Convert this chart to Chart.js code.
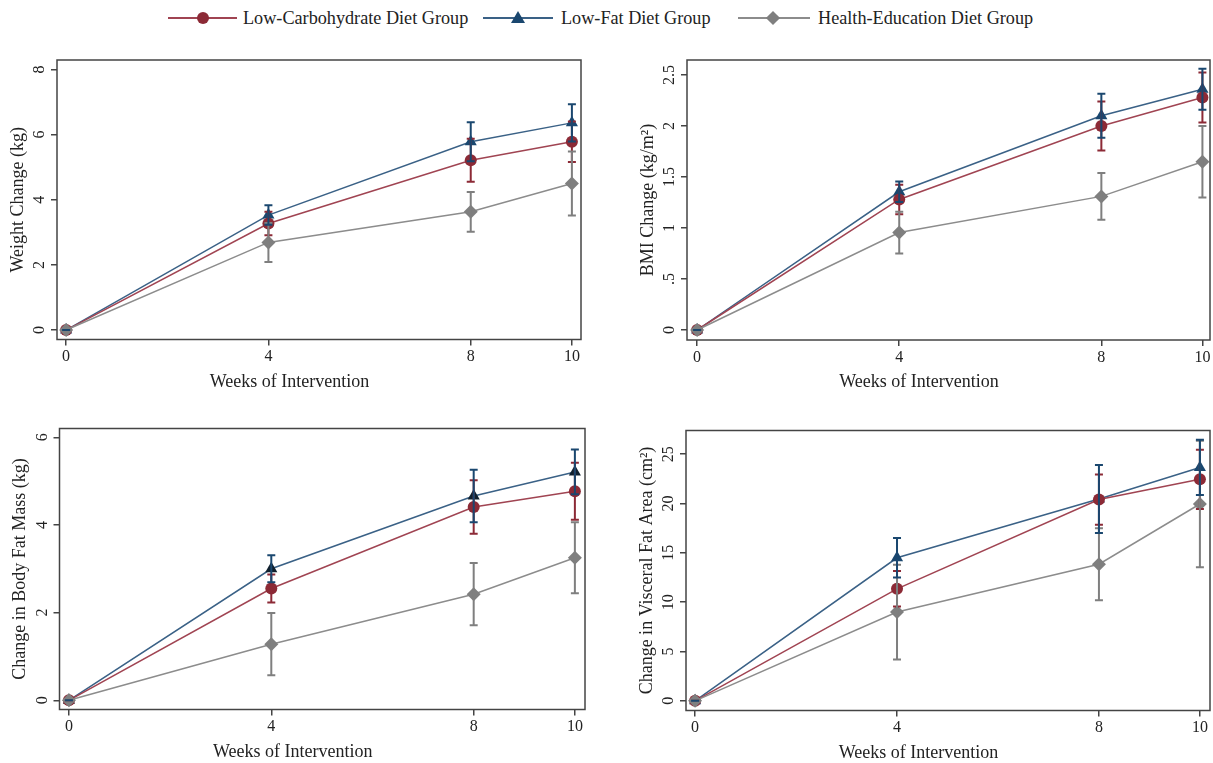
<!DOCTYPE html>
<html>
<head>
<meta charset="utf-8">
<script src="https://cdn.jsdelivr.net/npm/chart.js@4.4.0/dist/chart.umd.min.js"></script>
<style>
  body { margin: 0; background: #fff; width: 1213px; height: 763px; position: relative; overflow: hidden; font-family: "Liberation Serif", serif; }
  canvas { position: absolute; }
  .legline { position: absolute; top: 17px; height: 2px; }
  .legtext { position: absolute; top: 7px; font-size: 18.2px; line-height: 22px; color: #222; white-space: nowrap; }
  .mk { position: absolute; }
</style>
</head>
<body>

<div class="legline" style="left:168px;width:69px;background:#a04452"></div>
<div class="mk" style="left:197px;top:12px;width:12px;height:12px;border-radius:50%;background:#8c2a36"></div>
<span class="legtext" style="left:243px">Low-Carbohydrate Diet Group</span>

<div class="legline" style="left:483px;width:70px;background:#3a6186"></div>
<div class="mk" style="left:511px;top:11px;width:0;height:0;border-left:7px solid transparent;border-right:7px solid transparent;border-bottom:12px solid #1a476f"></div>
<span class="legtext" style="left:561px">Low-Fat Diet Group</span>

<div class="legline" style="left:738px;width:72px;background:#8c8c8c"></div>
<div class="mk" style="left:768px;top:13px;width:10px;height:10px;transform:rotate(45deg);background:#7f7f7f"></div>
<span class="legtext" style="left:818px">Health-Education Diet Group</span>

<canvas id="weightChart" width="606" height="360" style="left:0;top:40px"></canvas>
<canvas id="bmiChart" width="607" height="360" style="left:606px;top:40px"></canvas>
<canvas id="fatChart" width="606" height="363" style="left:0;top:400px"></canvas>
<canvas id="vfaChart" width="607" height="363" style="left:606px;top:400px"></canvas>

<script>
// weeks of intervention
var weeks = [0, 4, 8, 10];
var xTicks = [0, 4, 8, 10];
var xTickLabels = ['0', '4', '8', '10'];
var groupNames = ['Low-Carbohydrate Diet Group', 'Low-Fat Diet Group', 'Health-Education Diet Group'];

// weight change (kg): mean and half-width of error bar
var weightLowCarb = [0, 3.27, 5.21, 5.78];
var weightLowCarbErr = [0, 0.36, 0.66, 0.62];
var weightLowFat = [0, 3.53, 5.78, 6.36];
var weightLowFatErr = [0, 0.30, 0.60, 0.57];
var weightHealthEd = [0, 2.69, 3.63, 4.50];
var weightHealthEdErr = [0, 0.60, 0.61, 0.98];
var weightTicks = [0, 2, 4, 6, 8];
var weightTickLabels = ['0', '2', '4', '6', '8'];

// BMI change (kg/m2)
var bmiLowCarb = [0, 1.28, 2.00, 2.28];
var bmiLowCarbErr = [0, 0.145, 0.24, 0.245];
var bmiLowFat = [0, 1.355, 2.10, 2.36];
var bmiLowFatErr = [0, 0.10, 0.215, 0.20];
var bmiHealthEd = [0, 0.955, 1.31, 1.65];
var bmiHealthEdErr = [0, 0.205, 0.23, 0.35];
var bmiTicks = [0, 0.5, 1, 1.5, 2, 2.5];
var bmiTickLabels = ['0', '.5', '1', '1.5', '2', '2.5'];

// body fat mass change (kg)
var fatLowCarb = [0, 2.55, 4.41, 4.77];
var fatLowCarbErr = [0, 0.32, 0.61, 0.65];
var fatLowFat = [0, 3.00, 4.66, 5.21];
var fatLowFatErr = [0, 0.31, 0.60, 0.51];
var fatHealthEd = [0, 1.28, 2.42, 3.25];
var fatHealthEdErr = [0, 0.71, 0.71, 0.81];
var fatTicks = [0, 2, 4, 6];
var fatTickLabels = ['0', '2', '4', '6'];

// visceral fat area change (cm2)
var vfaLowCarb = [0, 11.35, 20.4, 22.45];
var vfaLowCarbErr = [0, 1.8, 2.55, 3.0];
var vfaLowFat = [0, 14.5, 20.45, 23.65];
var vfaLowFatErr = [0, 2.0, 3.45, 2.8];
var vfaHealthEd = [0, 9.0, 13.85, 19.95];
var vfaHealthEdErr = [0, 4.8, 3.65, 6.4];
var vfaTicks = [0, 5, 10, 15, 20, 25];
var vfaTickLabels = ['0', '5', '10', '15', '20', '25'];

var FONT = '"Liberation Serif", "Times New Roman", serif';
var lineColors = ['#a04452', '#3a6186', '#8c8c8c'];
var markColors = ['#8c2a36', '#1a476f', '#7f7f7f'];
var markStyles = ['circle', 'triangle', 'rectRot'];
var markSizes = [6, 7, 7];
var drawOrder = [2, 3, 1];

// error bars, frame, tick labels (y ones rotated) and x title
var panelExtras = {
  id: 'panelExtras',
  afterDatasetsDraw: function (chart, args, opts) {
    var ctx = chart.ctx, xs = chart.scales.x, ys = chart.scales.y;
    [0, 2, 1].forEach(function (i) {
      var ds = chart.data.datasets[i];
      var err = opts.errors[i];
      ctx.save();
      ctx.strokeStyle = markColors[i];
      ctx.lineWidth = 2;
      ds.data.forEach(function (p, j) {
        var x = xs.getPixelForValue(p.x);
        var top = ys.getPixelForValue(p.y + err[j]);
        var bot = ys.getPixelForValue(p.y - err[j]);
        ctx.beginPath();
        ctx.moveTo(x, top); ctx.lineTo(x, bot);
        ctx.moveTo(x - 4, top); ctx.lineTo(x + 4, top);
        ctx.moveTo(x - 4, bot); ctx.lineTo(x + 4, bot);
        ctx.stroke();
      });
      ctx.restore();
    });
  },
  afterDraw: function (chart, args, opts) {
    var ctx = chart.ctx, a = chart.chartArea, xs = chart.scales.x, ys = chart.scales.y;
    ctx.save();
    ctx.strokeStyle = '#444';
    ctx.lineWidth = 1.5;
    ctx.strokeRect(a.left, a.top, a.right - a.left, a.bottom - a.top);
    ctx.fillStyle = '#222';
    ctx.textAlign = 'center';
    ctx.textBaseline = 'middle';
    ctx.font = '16px ' + FONT;
    opts.yTicks.forEach(function (v, k) {
      ctx.save();
      ctx.translate(a.left - 17, ys.getPixelForValue(v));
      ctx.rotate(-Math.PI / 2);
      ctx.fillText(opts.yTickLabels[k], 0, 0);
      ctx.restore();
    });
    xTicks.forEach(function (v, k) {
      ctx.fillText(xTickLabels[k], xs.getPixelForValue(v), a.bottom + 17.5);
    });
    ctx.font = '18px ' + FONT;
    ctx.fillText('Weeks of Intervention', (a.left + a.right) / 2 - 29.5, a.bottom + 42.3);
    ctx.restore();
  }
};

function makePanel(id, yTitle, series, errors, yMin, yMax, yTicks, yTickLabels, xMin, xMax, pad, markOverride) {
  var datasets = series.map(function (vals, i) {
    return {
      label: groupNames[i],
      data: weeks.map(function (w, j) { return { x: w, y: vals[j] }; }),
      borderColor: lineColors[i],
      borderWidth: 1.5,
      pointStyle: markStyles[i],
      pointRadius: markSizes[i],
      pointBackgroundColor: (markOverride && markOverride[i]) || markColors[i],
      pointBorderColor: (markOverride && markOverride[i]) || markColors[i],
      pointBorderWidth: 0,
      tension: 0,
      clip: false,
      order: drawOrder[i]
    };
  });
  var grid = { display: true, drawOnChartArea: false, drawTicks: true, tickLength: 6, color: '#444', lineWidth: 1.5 };
  return new Chart(document.getElementById(id).getContext('2d'), {
    type: 'line',
    data: { datasets: datasets },
    options: {
      responsive: false,
      animation: false,
      events: [],
      layout: { padding: pad, autoPadding: false },
      plugins: {
        legend: { display: false },
        tooltip: { enabled: false },
        panelExtras: { errors: errors, yTicks: yTicks, yTickLabels: yTickLabels }
      },
      scales: {
        x: {
          type: 'linear', min: xMin, max: xMax,
          afterBuildTicks: function (s) { s.ticks = xTicks.map(function (v) { return { value: v }; }); },
          afterFit: function (s) { s.height = 30; },
          ticks: { display: false },
          grid: grid,
          border: { display: false }
        },
        y: {
          type: 'linear', min: yMin, max: yMax,
          afterBuildTicks: function (s) { s.ticks = yTicks.map(function (v) { return { value: v }; }); },
          afterFit: function (s) { s.width = 50; },
          ticks: { display: false },
          grid: grid,
          border: { display: false },
          title: { display: true, text: yTitle, color: '#222', font: { family: FONT, size: 18 }, padding: 0 }
        }
      }
    },
    plugins: [panelExtras]
  });
}

document.addEventListener('DOMContentLoaded', function () {
  makePanel('weightChart', 'Weight Change (kg)',
    [weightLowCarb, weightLowFat, weightHealthEd],
    [weightLowCarbErr, weightLowFatErr, weightHealthEdErr],
    -0.29, 8.29, weightTicks, weightTickLabels, -0.18, 10.18,
    { left: 7, top: 20, right: 25, bottom: 30.5 });

  makePanel('bmiChart', 'BMI Change (kg/m\u00B2)',
    [bmiLowCarb, bmiLowFat, bmiHealthEd],
    [bmiLowCarbErr, bmiLowFatErr, bmiHealthEdErr],
    -0.098, 2.647, bmiTicks, bmiTickLabels, -0.2, 10.15,
    { left: 31, top: 20, right: 3, bottom: 30 });

  makePanel('fatChart', 'Change in Body Fat Mass (kg)',
    [fatLowCarb, fatLowFat, fatHealthEd],
    [fatLowCarbErr, fatLowFatErr, fatHealthEdErr],
    -0.21, 6.2, fatTicks, fatTickLabels, -0.186, 10.2,
    { left: 9.5, top: 28.5, right: 21, bottom: 23.5 },
    [null, '#10202e', null]);

  makePanel('vfaChart', 'Change in Visceral Fat Area (cm\u00B2)',
    [vfaLowCarb, vfaLowFat, vfaHealthEd],
    [vfaLowCarbErr, vfaLowFatErr, vfaHealthEdErr],
    -0.98, 27.4, vfaTicks, vfaTickLabels, -0.18, 10.2,
    { left: 30, top: 30.5, right: 3, bottom: 22.5 });
});
</script>
</body>
</html>
